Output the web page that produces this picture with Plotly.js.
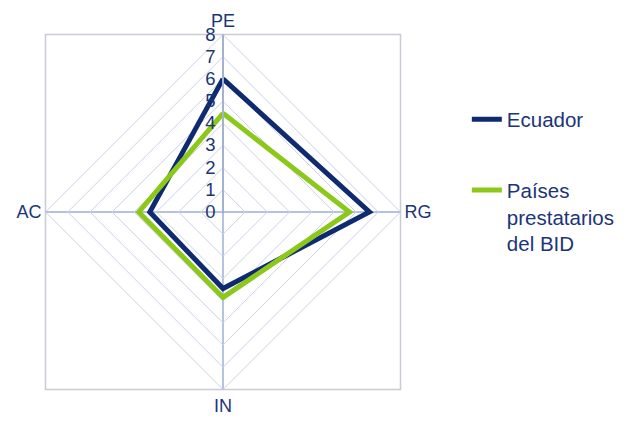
<!DOCTYPE html>
<html>
<head>
<meta charset="utf-8">
<script src="https://cdn.plot.ly/plotly-3.0.1.min.js"></script>
<style>html,body{margin:0;padding:0;background:#fff;}#chart{width:630px;height:423px;}</style>
</head>
<body>
<div id="chart"></div>
<script>
const axes = ['PE', 'RG', 'IN', 'AC'];
const ecuador = [6.0, 6.6, 3.45, 3.3];
const paises = [4.45, 5.7, 3.85, 3.8];
const seriesNames = ['Ecuador', 'Países<br>prestatarios<br>del BID'];
const radialTicks = [0, 1, 2, 3, 4, 5, 6, 7, 8];

const textColor = '#1b3578';
const font = 'Liberation Sans, Arial, sans-serif';
const dom = {x: [0.0722, 0.6357], y: [0.0792, 0.9184]};

function closed(a) { return a.concat([a[0]]); }

const traces = [
  {type: 'scatterpolar', r: closed(ecuador), theta: closed(axes), name: seriesNames[0],
   mode: 'lines', line: {color: '#0e2a70', width: 5}, legendgroup: 'a'},
  {type: 'scatterpolar', r: closed(paises), theta: closed(axes), name: seriesNames[1],
   mode: 'lines', line: {color: '#8cc81a', width: 5}, legendgroup: 'b'}
];

const layout = {
  width: 630, height: 423,
  margin: {l: 0, r: 0, t: 0, b: 0},
  paper_bgcolor: '#fff',
  font: {family: font, color: textColor, size: 16},
  showlegend: true,
  legend: {x: 0.741, y: 0.765, xanchor: 'left', yanchor: 'top', valign: 'top',
           traceorder: 'grouped', tracegroupgap: 41,
           font: {size: 20.5, color: textColor, family: font}},
  polar: {
    domain: dom,
    gridshape: 'linear',
    bgcolor: 'rgba(0,0,0,0)',
    radialaxis: {range: [0, 8], tickvals: radialTicks, ticktext: radialTicks.map(String),
                 angle: 90, tickangle: 90, side: 'counterclockwise',
                 showline: true, linecolor: '#a4b2d0', linewidth: 2,
                 gridcolor: '#cdd2ea', gridwidth: 1, ticks: '',
                 tickfont: {size: 18.5, color: textColor, family: font}},
    angularaxis: {rotation: 90, direction: 'clockwise', type: 'category',
                  categoryarray: axes,
                  showline: true, linecolor: '#cdd2ea', linewidth: 1,
                  gridcolor: '#6a86c0', gridwidth: 1, ticks: '',
                  tickfont: {size: 18, color: textColor, family: font}}
  },
  shapes: [{type: 'rect', xref: 'paper', yref: 'paper',
            x0: dom.x[0], x1: dom.x[1], y0: dom.y[0], y1: dom.y[1],
            line: {color: '#c9ccd6', width: 1.5}, layer: 'below'}]
};

Plotly.newPlot('chart', traces, layout, {displayModeBar: false, staticPlot: true});
</script>
</body>
</html>
